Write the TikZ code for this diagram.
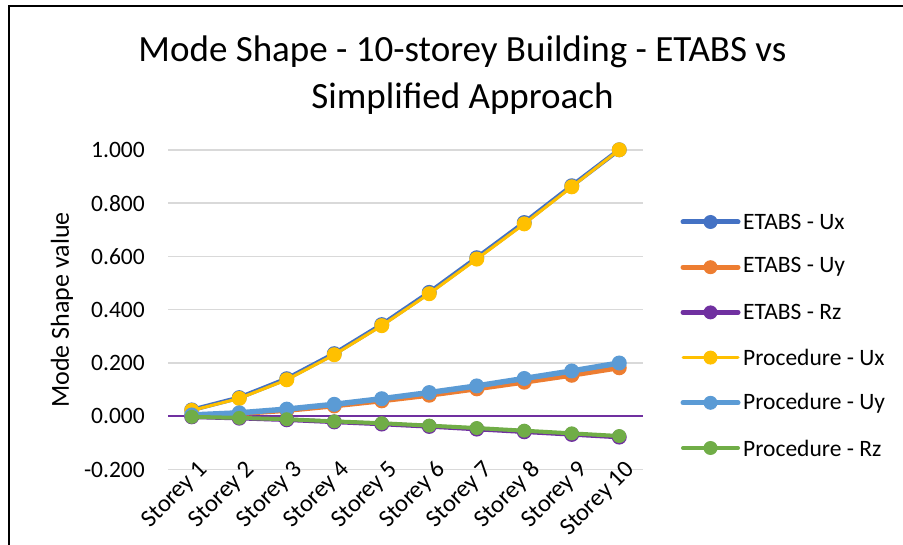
\documentclass[tikz,border=0pt]{standalone}
\usepackage{fontspec}
\setmainfont{Carlito}
\definecolor{cUx}{HTML}{4472C4}
\definecolor{cUy}{HTML}{ED7D31}
\definecolor{cRz}{HTML}{7030A0}
\definecolor{pUx}{HTML}{FFC000}
\definecolor{pUy}{HTML}{5B9BD5}
\definecolor{pRz}{HTML}{70AD47}
\definecolor{gridc}{HTML}{D9D9D9}
\newcommand{\plotseries}[5]{%
  \foreach \v [count=\i] in {#5} {\coordinate (#1\i) at ({168+47.5*(\i-0.5)},{416.3-266.5*\v});}
  \draw[#2, line width=#3, line join=round] (#11) \foreach \j in {2,...,10}{ -- (#1\j)};
  \foreach \j in {1,...,10} {\node[marker, fill=#2, minimum size=#4] (#1m\j) at (#1\j) {};}
}
\begin{document}
\begin{tikzpicture}[x=1pt,y=-1pt,
  marker/.style={circle, inner sep=0pt, draw=none},
  lbl/.style={font=\fontsize{23.5}{28}\selectfont, inner sep=0pt},
  catlbl/.style={font=\fontsize{24.5}{29}\selectfont, inner sep=0pt},
  axlbl/.style={font=\fontsize{26}{30}\selectfont, inner sep=0pt},
  ttl/.style={font=\fontsize{37}{47}\selectfont, inner sep=0pt, anchor=base},
  gridline/.style={gridc, line width=1.5pt}]
\useasboundingbox (0,0) rectangle (903,545);
\fill[white] (0,0) rectangle (903,545);
\draw[line width=2pt] (9,545) -- (9,6) -- (903,6);
% title
\node[ttl] (t1) at (462.5,62) {Mode Shape - 10-storey Building - ETABS vs};
\node[ttl] (t2) at (462.5,109) {Simplified Approach};
% grid
\foreach \g/\t [count=\k] in {1/1.000,0.8/0.800,0.6/0.600,0.4/0.400,0.2/0.200,-0.2/-0.200} {
  \coordinate (gl\k) at (168,{416.3-266.5*\g});
  \coordinate (gr\k) at (643,{416.3-266.5*\g});
  \draw[gridline] (gl\k) -- (gr\k);
  \node[lbl, anchor=east] (yt\k) at (145,{416.3-266.5*\g}) {\t};
}
\node[lbl, anchor=east] (yt0) at (145,416.3) {0.000};
\coordinate (axl) at (168,416.3);
\coordinate (axr) at (643,416.3);
\draw[cRz, line width=2pt] (axl) -- (axr);
\node[axlbl, rotate=90] (ylab) at (62,310) {Mode Shape value};
% categories
\foreach \i in {1,...,10} {
  \node[catlbl, rotate=45, anchor=north east] (cat\i) at ({168+47.5*(\i-0.5)+5},459) {Storey \i};
}
% series
\plotseries{eux}{cUx}{4.5pt}{15pt}{0.024,0.070,0.141,0.235,0.344,0.465,0.595,0.727,0.865,1.000}
\plotseries{euy}{cUy}{5pt}{15pt}{0.003,0.010,0.022,0.039,0.058,0.079,0.103,0.128,0.154,0.182}
\plotseries{erz}{cRz}{4.5pt}{15pt}{-0.002,-0.007,-0.013,-0.021,-0.029,-0.038,-0.048,-0.058,-0.068,-0.078}
\plotseries{pux}{pUx}{3pt}{15pt}{0.022,0.067,0.137,0.231,0.340,0.460,0.590,0.722,0.861,1.000}
\plotseries{puy}{pUy}{5.5pt}{15pt}{0.005,0.013,0.027,0.045,0.066,0.089,0.114,0.142,0.170,0.200}
\plotseries{prz}{pRz}{4pt}{14pt}{-0.002,-0.006,-0.011,-0.019,-0.026,-0.035,-0.044,-0.054,-0.064,-0.074}
% legend
\foreach \c/\w/\t [count=\k] in {cUx/5pt/ETABS - Ux, cUy/5pt/ETABS - Uy, cRz/5pt/ETABS - Rz, pUx/3pt/Procedure - Ux, pUy/5pt/Procedure - Uy, pRz/4pt/Procedure - Rz} {
  \coordinate (la\k) at (683,{222+45.2*(\k-1)});
  \coordinate (lb\k) at (738,{222+45.2*(\k-1)});
  \draw[\c, line width=\w, line cap=round] (la\k) -- (lb\k);
  \node[marker, fill=\c, minimum size=14pt] (lm\k) at (710.5,{222+45.2*(\k-1)}) {};
  \node[lbl, anchor=west] (lt\k) at (743,{222+45.2*(\k-1)}) {\t};
}
\end{tikzpicture}
\end{document}
